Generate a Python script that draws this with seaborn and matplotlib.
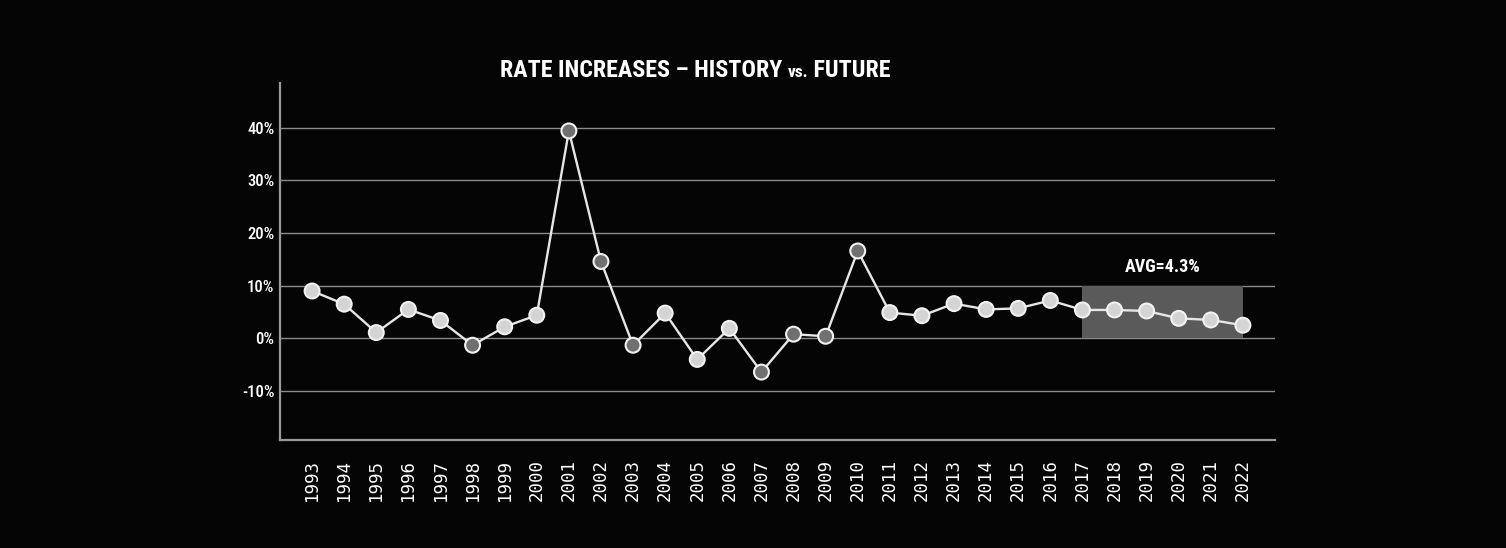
import matplotlib
matplotlib.use("Agg")
import matplotlib.pyplot as plt
import matplotlib.patches as mpatches
from matplotlib import font_manager
from matplotlib.ticker import FuncFormatter
import pandas as pd
import seaborn as sns

# Annual rate increase, percent
years = list(range(1993, 2023))
rate_change = [9.0, 6.5, 1.1, 5.5, 3.4, -1.3, 2.2, 4.4, 39.4, 14.6,
               -1.3, 4.8, -4.0, 1.9, -6.4, 0.8, 0.4, 16.6, 4.9, 4.3,
               6.6, 5.5, 5.7, 7.2, 5.4, 5.4, 5.2, 3.8, 3.5, 2.5]
# Years whose markers are drawn in the darker shade
dark_years = [1998, 2001, 2002, 2003, 2007, 2008, 2009, 2010]

# Projection window and its average
future_start, future_end = 2017, 2022
band_low, band_high = 0, 10
avg_label = "AVG=4.3%"
y_ticks = [-10, 0, 10, 20, 30, 40]

df = pd.DataFrame({"year": years, "rate": rate_change})
df["shade"] = ["dark" if y in dark_years else "light" for y in years]

sns.set_theme(style="dark")
BG = "#050505"
plt.rcParams.update({
    "figure.facecolor": BG,
    "axes.facecolor": BG,
    "savefig.facecolor": BG,
})

# Prefer a narrow face for the headline text
installed = {f.name for f in font_manager.fontManager.ttflist}
narrow_face = next((n for n in ["Roboto Condensed", "Liberation Sans Narrow",
                                "Open Sans Condensed", "Roboto", "Liberation Sans"]
                    if n in installed), "DejaVu Sans")
narrow = [narrow_face, "DejaVu Sans"]

fig = plt.figure(figsize=(15.06, 5.48), dpi=100)
ax = fig.add_axes([280 / 1506, 1 - 440 / 548, 995 / 1506, 357 / 548])

# Shaded projection band
ax.add_patch(mpatches.Rectangle((future_start, band_low), future_end - future_start,
                                band_high - band_low, facecolor="#5a5a5a",
                                edgecolor="none", zorder=1))
ax.text((future_start + future_end) / 2, 13.6, avg_label, ha="center", va="center",
        color="white", fontsize=13, fontweight="bold", family=narrow, zorder=5)

sns.lineplot(data=df, x="year", y="rate", ax=ax, color="#e6e6e6", linewidth=1.7,
             zorder=3, legend=False)
sns.scatterplot(data=df, x="year", y="rate", hue="shade",
                palette={"light": "#d4d4d4", "dark": "#707070"},
                s=115, edgecolor="#f2f2f2", linewidth=1.5, ax=ax, zorder=4,
                legend=False)

ax.set_xlim(1992, 2023)
ax.set_ylim(-19.3, 48.5)
ax.set_xticks(years)
ax.set_xticklabels([str(y) for y in years], rotation=90, family="DejaVu Sans Mono",
                   fontsize=12.5, color="white")
ax.set_yticks(y_ticks)
ax.yaxis.set_major_formatter(FuncFormatter(lambda v, _: f"{v:.0f}%"))
for lab in ax.get_yticklabels():
    lab.set_family(narrow)
    lab.set_fontsize(12)
    lab.set_fontweight("medium")
    lab.set_color("white")
ax.tick_params(axis="x", length=0, pad=14)
ax.tick_params(axis="y", length=3, width=1.5, color="#9a9a9a", pad=4, direction="in")
ax.set_xlabel("")
ax.set_ylabel("")

ax.grid(axis="y", color="#8a8a8a", linewidth=1.0)
ax.grid(axis="x", visible=False)
for side in ("top", "right"):
    ax.spines[side].set_visible(False)
for side in ("left", "bottom"):
    ax.spines[side].set_visible(True)
    ax.spines[side].set_color("#9a9a9a")
    ax.spines[side].set_linewidth(1.6)

# Title with a smaller "vs.", scaled to span 390 px
renderer = fig.canvas.get_renderer()
tkw = dict(color="white", fontweight="bold", family=narrow, va="baseline")
parts = [("RATE INCREASES \u2013 HISTORY ", 1.0), ("vs.", 0.72), (" FUTURE", 1.0)]
base = 20.0
def measure(size):
    ws = []
    for txt, rel in parts:
        t = fig.text(0, 0, txt, fontsize=size * rel, **tkw)
        ws.append(t.get_window_extent(renderer).width)
        t.remove()
    return ws
ws = measure(base)
base = min(base * 390 / sum(ws), 22.0)
ws = measure(base)
x = (695 - sum(ws) / 2) / 1506
ybase = 1 - 77 / 548
for (txt, rel), w in zip(parts, ws):
    fig.text(x, ybase, txt, fontsize=base * rel, **tkw)
    x += w / 1506

fig.savefig("out.png", dpi=100)
